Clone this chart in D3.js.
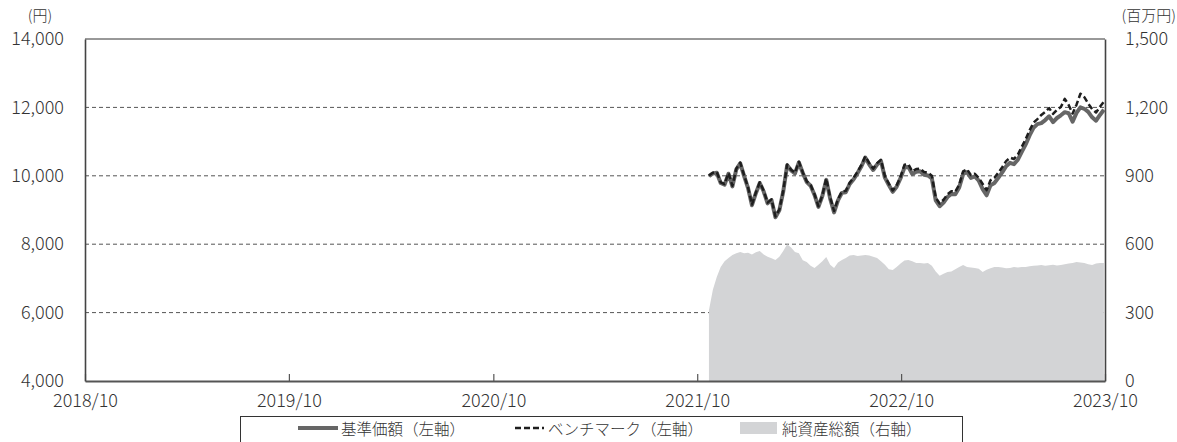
<!DOCTYPE html>
<html>
<head>
<meta charset="utf-8">
<script src="https://cdn.jsdelivr.net/npm/d3@7"></script>
<style>
  body { margin: 0; background: #fff; }
  svg text { font-family: "Noto Sans CJK JP", "Noto Sans", sans-serif; fill: #333; }
</style>
</head>
<body>
<div id="chart"></div>
<script>

// weekly dates (Fridays) from fund start
var weekDates = [
  "2021-10-22","2021-10-29","2021-11-05","2021-11-12","2021-11-19","2021-11-26","2021-12-03","2021-12-10","2021-12-17","2021-12-24",
  "2021-12-31","2022-01-07","2022-01-14","2022-01-21","2022-01-28","2022-02-04","2022-02-11","2022-02-18","2022-02-25","2022-03-04",
  "2022-03-11","2022-03-18","2022-03-25","2022-04-01","2022-04-08","2022-04-15","2022-04-22","2022-04-29","2022-05-06","2022-05-13",
  "2022-05-20","2022-05-27","2022-06-03","2022-06-10","2022-06-17","2022-06-24","2022-07-01","2022-07-08","2022-07-15","2022-07-22",
  "2022-07-29","2022-08-05","2022-08-12","2022-08-19","2022-08-26","2022-09-02","2022-09-09","2022-09-16","2022-09-23","2022-09-30",
  "2022-10-07","2022-10-14","2022-10-21","2022-10-28","2022-11-04","2022-11-11","2022-11-18","2022-11-25","2022-12-02","2022-12-09",
  "2022-12-16","2022-12-23","2022-12-30","2023-01-06","2023-01-13","2023-01-20","2023-01-27","2023-02-03","2023-02-10","2023-02-17",
  "2023-02-24","2023-03-03","2023-03-10","2023-03-17","2023-03-24","2023-03-31","2023-04-07","2023-04-14","2023-04-21","2023-04-28",
  "2023-05-05","2023-05-12","2023-05-19","2023-05-26","2023-06-02","2023-06-09","2023-06-16","2023-06-23","2023-06-30","2023-07-07",
  "2023-07-14","2023-07-21","2023-07-28","2023-08-04","2023-08-11","2023-08-18","2023-08-25","2023-09-01","2023-09-08","2023-09-15",
  "2023-09-22","2023-09-29"
];

// 基準価額 (円)
var navValues = [
  9990,10070,10090,9790,9740,10060,9690,10190,10365,9990,
  9640,9140,9490,9790,9540,9195,9290,8790,8990,9540,
  10310,10160,10070,10390,10080,9820,9710,9440,9090,9410,
  9880,9330,8930,9280,9500,9520,9760,9900,10080,10280,
  10530,10330,10170,10330,10430,9945,9730,9530,9680,9930,
  10240,10260,10050,10120,10130,10030,10010,9925,9280,9110,
  9220,9380,9470,9460,9660,10050,10110,9940,9980,9860,
  9610,9430,9720,9790,9940,10100,10280,10380,10340,10470,
  10700,10920,11180,11400,11510,11540,11630,11740,11570,11690,
  11770,11860,11830,11580,11840,12000,11960,11870,11710,11610,
  11780,11930
];

// ベンチマーク (円)
var benchValues = [
  10010,10090,10110,9810,9760,10080,9710,10210,10385,10010,
  9660,9160,9510,9810,9560,9215,9310,8810,9010,9560,
  10330,10180,10090,10410,10100,9840,9730,9460,9110,9430,
  9920,9370,8970,9320,9540,9560,9800,9940,10120,10320,
  10570,10370,10210,10370,10470,9985,9770,9570,9720,9970,
  10320,10340,10130,10200,10210,10110,10090,10005,9360,9190,
  9300,9460,9550,9540,9740,10130,10190,10020,10060,9940,
  9760,9580,9870,9940,10090,10250,10430,10530,10490,10620,
  10850,11070,11330,11550,11660,11780,11870,11980,11810,11930,
  12010,12250,12070,11820,12080,12400,12300,12110,11950,11850,
  12020,12170
];

// 純資産総額 (百万円)
var assetValues = [
  310,400,456,500,525,540,553,560,566,560,
  562,555,565,570,555,545,538,531,545,570,
  600,585,566,560,530,522,505,496,510,525,
  544,510,496,520,531,540,550,553,548,550,
  553,550,545,539,525,510,490,487,500,515,
  528,531,525,518,518,515,518,505,480,462,
  470,478,480,490,500,509,500,498,496,492,
  478,488,495,500,500,498,495,496,500,498,
  500,500,503,505,507,509,506,508,510,507,
  509,512,515,518,522,520,518,512,509,515,
  518,518
];

var xTickLabels = ["2018/10","2019/10","2020/10","2021/10","2022/10","2023/10"];
var leftTicks = [4000, 6000, 8000, 10000, 12000, 14000];
var rightTicks = [0, 300, 600, 900, 1200, 1500];
var legendLabels = ["基準価額（左軸）", "ベンチマーク（左軸）", "純資産総額（右軸）"];

var W = 1177, H = 442;
var margin = {left: 85, right: 1105, top: 39, bottom: 381};

var parseDate = d3.timeParse("%Y-%m-%d");
var parseTick = d3.timeParse("%Y/%m");

var rows = weekDates.map(function(d, i) {
  return { date: parseDate(d), nav: navValues[i], bench: benchValues[i], assets: assetValues[i] };
});

var x = d3.scaleTime()
  .domain([parseTick("2018/10"), parseTick("2023/10")])
  .range([margin.left, margin.right]);

var y = d3.scaleLinear().domain([4000, 14000]).range([margin.bottom, margin.top]);
var y2 = d3.scaleLinear().domain([0, 1500]).range([margin.bottom, margin.top]);

var svg = d3.select("#chart").append("svg")
  .attr("width", W)
  .attr("height", H);

// grid lines (dashed)
svg.append("g")
  .selectAll("line")
  .data(leftTicks.slice(1, -1))
  .enter().append("line")
    .attr("x1", margin.left).attr("x2", margin.right)
    .attr("y1", function(d) { return y(d); })
    .attr("y2", function(d) { return y(d); })
    .attr("stroke", "#555")
    .attr("stroke-width", 1)
    .attr("stroke-dasharray", "4,3");

// net assets area
var area = d3.area()
  .x(function(d) { return x(d.date); })
  .y0(y2(0))
  .y1(function(d) { return y2(d.assets); });

svg.append("path")
  .datum(rows)
  .attr("d", area)
  .attr("fill", "#d3d4d6");

// top border
svg.append("line")
  .attr("x1", margin.left).attr("x2", margin.right)
  .attr("y1", margin.top).attr("y2", margin.top)
  .attr("stroke", "#333").attr("stroke-width", 1);

// x axis with inward ticks
var xAxis = d3.axisBottom(x)
  .tickValues(xTickLabels.map(function(t) { return parseTick(t); }))
  .tickFormat(d3.timeFormat("%Y/%m"))
  .tickSizeInner(-7)
  .tickSizeOuter(0);

var gx = svg.append("g")
  .attr("transform", "translate(0," + margin.bottom + ")")
  .call(xAxis);
gx.select(".domain").attr("stroke", "#555").attr("stroke-width", 2);
gx.selectAll(".tick line").attr("stroke", "#555").attr("stroke-width", 1.2);
gx.selectAll("text")
  .attr("y", 26).attr("dy", 0)
  .style("font-size", "18px")
  .style("font-weight", 300);

var yAxis = d3.axisLeft(y)
  .tickValues(leftTicks)
  .tickFormat(d3.format(","))
  .tickSize(0)
  .tickPadding(21);

var gy = svg.append("g")
  .attr("transform", "translate(" + margin.left + ",0)")
  .call(yAxis);
gy.select(".domain").attr("stroke", "#444").attr("stroke-width", 1.6);
gy.selectAll("text").style("font-size", "18px").style("font-weight", 300);

var y2Axis = d3.axisRight(y2)
  .tickValues(rightTicks)
  .tickFormat(d3.format(","))
  .tickSize(0)
  .tickPadding(20);

var gy2 = svg.append("g")
  .attr("transform", "translate(" + margin.right + ",0)")
  .call(y2Axis);
gy2.select(".domain").attr("stroke", "#444").attr("stroke-width", 1.6);
gy2.selectAll("text").style("font-size", "18px").style("font-weight", 300);

// unit labels
svg.append("text")
  .attr("x", 40).attr("y", 21)
  .attr("text-anchor", "middle")
  .style("font-size", "15px")
  .style("font-weight", 300)
  .text("(円)");

svg.append("text")
  .attr("x", 1176).attr("y", 21)
  .attr("text-anchor", "end")
  .style("font-size", "15px")
  .style("font-weight", 300)
  .text("(百万円)");

// lines
var navLine = d3.line()
  .x(function(d) { return x(d.date); })
  .y(function(d) { return y(d.nav); });

var benchLine = d3.line()
  .x(function(d) { return x(d.date); })
  .y(function(d) { return y(d.bench); });

svg.append("path")
  .datum(rows)
  .attr("d", navLine)
  .attr("fill", "none")
  .attr("stroke", "#666")
  .attr("stroke-width", 4)
  .attr("stroke-linejoin", "round");

svg.append("path")
  .datum(rows)
  .attr("d", benchLine)
  .attr("fill", "none")
  .attr("stroke", "#1e1e1e")
  .attr("stroke-width", 2.5)
  .attr("stroke-dasharray", "6,3")
  .attr("stroke-linejoin", "round");

// legend
var legend = svg.append("g");
legend.append("rect")
  .attr("x", 240.5).attr("y", 416.5)
  .attr("width", 722).attr("height", 40)
  .attr("fill", "#fff")
  .attr("stroke", "#333")
  .attr("stroke-width", 1);

legend.append("line")
  .attr("x1", 298).attr("x2", 338).attr("y1", 428).attr("y2", 428)
  .attr("stroke", "#666").attr("stroke-width", 4);

legend.append("line")
  .attr("x1", 515).attr("x2", 544).attr("y1", 428).attr("y2", 428)
  .attr("stroke", "#1e1e1e").attr("stroke-width", 2.5)
  .attr("stroke-dasharray", "6,3");

legend.append("rect")
  .attr("x", 740).attr("y", 422)
  .attr("width", 37).attr("height", 12)
  .attr("fill", "#d3d4d6");

var legendX = [341, 548, 782];
legend.selectAll("text.lg")
  .data(legendLabels)
  .enter().append("text")
    .attr("class", "lg")
    .attr("x", function(d, i) { return legendX[i]; })
    .attr("y", 428)
    .attr("dominant-baseline", "central")
    .style("font-size", "15.5px")
    .style("font-weight", 300)
    .text(function(d) { return d; });

</script>
</body>
</html>
